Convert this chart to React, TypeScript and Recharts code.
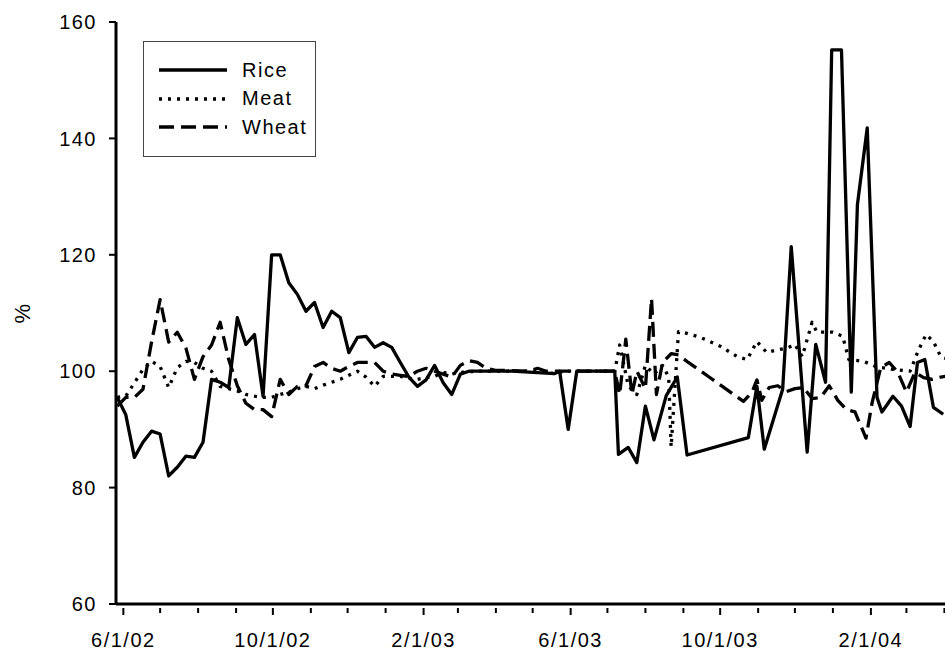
import { LineChart, Line, XAxis, YAxis, Legend, Label } from "recharts";

// weekly price index (%)
const riceDates = [
  "2002-05-27", "2002-06-03", "2002-06-10", "2002-06-17", "2002-06-24", "2002-07-01", "2002-07-08",
  "2002-07-15", "2002-07-22", "2002-07-29", "2002-08-05", "2002-08-12", "2002-08-19", "2002-08-26",
  "2002-09-02", "2002-09-09", "2002-09-16", "2002-09-23", "2002-09-30", "2002-10-07", "2002-10-14",
  "2002-10-21", "2002-10-28", "2002-11-04", "2002-11-11", "2002-11-18", "2002-11-25", "2002-12-02",
  "2002-12-09", "2002-12-16", "2002-12-23", "2002-12-30", "2003-01-06", "2003-01-13", "2003-01-20",
  "2003-01-27", "2003-02-03", "2003-02-10", "2003-02-17", "2003-02-24", "2003-03-03", "2003-03-10",
  "2003-04-14", "2003-05-19", "2003-05-23", "2003-05-30", "2003-06-06", "2003-07-07", "2003-07-10",
  "2003-07-18", "2003-07-25", "2003-08-01", "2003-08-08", "2003-08-18", "2003-08-27", "2003-09-04",
  "2003-10-24", "2003-10-31", "2003-11-06", "2003-11-21", "2003-11-28", "2003-12-11", "2003-12-18",
  "2003-12-26", "2003-12-31", "2004-01-08", "2004-01-16", "2004-01-21", "2004-01-29", "2004-02-06",
  "2004-02-10", "2004-02-19", "2004-02-26", "2004-03-04", "2004-03-10", "2004-03-16", "2004-03-23",
  "2004-03-31",
];
const riceValues = [
  95.5, 92.5, 85.2, 87.8, 89.7, 89.2, 82.0,
  83.5, 85.4, 85.2, 87.8, 98.6, 98.1, 97.2,
  109.2, 104.6, 106.3, 95.7, 120.0, 120.0, 115.2,
  113.2, 110.3, 111.8, 107.5, 110.3, 109.2, 103.2,
  105.8, 106.0, 104.1, 104.9, 104.1, 101.5, 99.0,
  97.4, 98.5, 101.0, 98.0, 96.0, 99.5, 100.0,
  100.0, 99.6, 100.0, 90.0, 100.0, 100.0, 85.7,
  86.9, 84.3, 94.0, 88.2, 95.8, 99.0, 85.6,
  88.6, 97.4, 86.6, 96.9, 121.4, 86.1, 104.6,
  98.1, 155.2, 155.2, 96.4, 128.6, 141.8, 95.5,
  93.0, 95.7, 94.0, 90.5, 101.5, 102.0, 93.8,
  92.6,
];

const meatDates = [
  "2002-05-27", "2002-06-03", "2002-06-10", "2002-06-17", "2002-06-24", "2002-07-01", "2002-07-08",
  "2002-07-15", "2002-07-22", "2002-07-29", "2002-08-05", "2002-08-12", "2002-08-19", "2002-08-26",
  "2002-09-02", "2002-09-09", "2002-09-16", "2002-09-23", "2002-09-30", "2002-10-07", "2002-10-14",
  "2002-10-21", "2002-10-28", "2002-11-04", "2002-11-11", "2002-11-18", "2002-11-25", "2002-12-02",
  "2002-12-09", "2002-12-16", "2002-12-23", "2002-12-30", "2003-01-06", "2003-01-13", "2003-01-20",
  "2003-01-27", "2003-02-03", "2003-02-10", "2003-02-17", "2003-02-24", "2003-03-03", "2003-03-17",
  "2003-05-12", "2003-05-19", "2003-05-26", "2003-07-07", "2003-07-11", "2003-07-18", "2003-07-25",
  "2003-08-01", "2003-08-08", "2003-08-15", "2003-08-20", "2003-08-22", "2003-08-28", "2003-09-04",
  "2003-09-15", "2003-10-01", "2003-10-15", "2003-10-23", "2003-10-31", "2003-11-08", "2003-11-17",
  "2003-11-25", "2003-12-01", "2003-12-07", "2003-12-15", "2003-12-19", "2004-01-01", "2004-01-09",
  "2004-01-14", "2004-01-26", "2004-02-05", "2004-02-19", "2004-03-04", "2004-03-11", "2004-03-17",
  "2004-03-23", "2004-03-29", "2004-04-05",
];
const meatValues = [
  95.5, 95.7, 98.0, 100.3, 101.7, 100.8, 97.2,
  100.6, 101.7, 101.5, 100.5, 100.0, 97.4, 97.0,
  96.6, 96.0, 95.7, 95.5, 95.5, 96.0, 96.4,
  97.0, 97.4, 97.0, 97.6, 98.1, 98.6, 99.3,
  100.0, 99.0, 97.4, 99.1, 99.1, 99.1, 98.8,
  98.6, 98.9, 99.1, 99.8, 99.5, 99.8, 100.0,
  100.0, 99.5, 100.0, 100.0, 104.5, 97.5, 96.0,
  101.0, 99.5, 101.0, 99.0, 87.0, 106.8, 106.5,
  105.8, 104.3, 102.5, 102.0, 105.1, 103.2, 103.7,
  104.0, 104.6, 102.5, 108.4, 106.7, 106.7, 106.0,
  102.0, 101.7, 100.8, 100.3, 100.0, 103.7, 106.3,
  105.1, 102.5, 102.0,
];

const wheatDates = [
  "2002-05-27", "2002-06-03", "2002-06-10", "2002-06-17", "2002-06-24", "2002-07-01", "2002-07-08",
  "2002-07-15", "2002-07-22", "2002-07-29", "2002-08-05", "2002-08-12", "2002-08-19", "2002-08-26",
  "2002-09-02", "2002-09-09", "2002-09-16", "2002-09-23", "2002-09-30", "2002-10-07", "2002-10-14",
  "2002-10-21", "2002-10-28", "2002-11-04", "2002-11-11", "2002-11-18", "2002-11-25", "2002-12-02",
  "2002-12-09", "2002-12-16", "2002-12-23", "2002-12-30", "2003-01-06", "2003-01-13", "2003-01-20",
  "2003-01-27", "2003-02-03", "2003-02-10", "2003-02-17", "2003-02-24", "2003-03-03", "2003-03-10",
  "2003-03-17", "2003-03-24", "2003-03-31", "2003-04-28", "2003-05-05", "2003-05-12", "2003-07-07",
  "2003-07-11", "2003-07-16", "2003-07-21", "2003-07-25", "2003-08-01", "2003-08-06", "2003-08-10",
  "2003-08-15", "2003-08-22", "2003-08-28", "2003-09-05", "2003-09-22", "2003-10-20", "2003-10-27",
  "2003-10-31", "2003-11-04", "2003-11-10", "2003-11-17", "2003-11-24", "2003-12-01", "2003-12-08",
  "2003-12-15", "2003-12-22", "2003-12-29", "2004-01-05", "2004-01-12", "2004-01-19", "2004-01-28",
  "2004-02-02", "2004-02-09", "2004-02-16", "2004-02-23", "2004-03-01", "2004-03-08", "2004-03-15",
  "2004-03-22", "2004-03-29", "2004-04-05",
];
const wheatValues = [
  94.0, 95.5, 95.5, 96.9, 105.0, 112.3, 105.0,
  106.7, 104.0, 98.6, 102.5, 104.5, 108.4, 102.0,
  97.5, 94.5, 93.4, 93.4, 92.2, 98.6, 96.0,
  97.4, 97.5, 100.8, 101.5, 100.5, 100.0, 100.8,
  101.5, 101.5, 101.5, 100.0, 99.5, 99.3, 99.1,
  100.0, 100.5, 100.0, 99.5, 99.0, 101.0, 101.8,
  101.5, 100.5, 100.2, 100.0, 100.5, 100.0, 100.0,
  96.0, 105.5, 96.0, 100.0, 97.0, 112.5, 96.0,
  101.5, 103.0, 102.8, 101.5, 99.0, 94.8, 96.4,
  98.5, 95.0, 97.2, 97.5, 96.5, 97.0, 97.2,
  95.3, 95.5, 97.5, 95.0, 93.4, 93.0, 88.5,
  94.6, 100.6, 101.5, 99.8, 96.4, 99.8, 98.9,
  98.6, 99.0, 99.2,
];

const monthTicks = [
  "2002-06-01", "2002-07-01", "2002-08-01", "2002-09-01", "2002-10-01", "2002-11-01", "2002-12-01",
  "2003-01-01", "2003-02-01", "2003-03-01", "2003-04-01", "2003-05-01", "2003-06-01", "2003-07-01",
  "2003-08-01", "2003-09-01", "2003-10-01", "2003-11-01", "2003-12-01", "2004-01-01", "2004-02-01",
  "2004-03-01", "2004-04-01",
];
const labeledTicks = ["2002-06-01", "2002-10-01", "2003-02-01", "2003-06-01", "2003-10-01", "2004-02-01"];
const yTicks = [60, 80, 100, 120, 140, 160];

const series = [
  { name: "Rice", dates: riceDates, values: riceValues, dash: undefined as string | undefined },
  { name: "Meat", dates: meatDates, values: meatValues, dash: "3 6" },
  { name: "Wheat", dates: wheatDates, values: wheatValues, dash: "15 7" },
];

const DAY = 86400000;
const toDay = (s: string) => {
  const [y, m, d] = s.split("-").map(Number);
  return Date.UTC(y, m - 1, d) / DAY;
};
const labeledDays = labeledTicks.map(toDay);

const FONT = '"Liberation Sans", Arial, sans-serif';

function DateTick({ x, y, payload }: any) {
  const d = new Date(payload.value * DAY);
  const major = labeledDays.includes(payload.value);
  const label = `${d.getUTCMonth() + 1}/${d.getUTCDate()}/${String(d.getUTCFullYear()).slice(2)}`;
  return (
    <g>
      <line x1={x} x2={x} y1={y + 2} y2={y + (major ? 9 : 7)} stroke="#000" strokeWidth={2} />
      {major && (
        <text x={x} y={y + 41} textAnchor="middle" fontSize={20} fill="#000">
          {label}
        </text>
      )}
    </g>
  );
}

function LegendBox() {
  return (
    <div
      style={{
        width: 173,
        height: 116,
        border: "1px solid #444",
        boxSizing: "border-box",
        background: "#fff",
        paddingTop: 14,
        fontSize: 20,
      }}
    >
      {series.map((s) => (
        <div key={s.name} style={{ height: 28.5, display: "flex", alignItems: "center" }}>
          <svg width={84} height={8} style={{ display: "block" }}>
            <line x1={15} x2={83} y1={4} y2={4} stroke="#000" strokeWidth={3.5} strokeDasharray={s.dash} />
          </svg>
          <span style={{ marginLeft: 14, color: "#000" }}>{s.name}</span>
        </div>
      ))}
    </div>
  );
}

export default function App() {
  return (
    <div
      style={{
        position: "absolute",
        left: 0,
        top: 0,
        width: 945,
        height: 650,
        overflow: "hidden",
        background: "#fff",
        fontFamily: FONT,
        letterSpacing: "1.5px",
      }}
    >
      <LineChart width={953} height={650} margin={{ top: 22, right: 0, bottom: 0, left: 0 }}>
        <XAxis
          type="number"
          dataKey="t"
          domain={[toDay("2002-05-26"), toDay("2004-04-08")]}
          ticks={monthTicks.map(toDay)}
          interval={0}
          height={46}
          tickSize={0}
          tickLine={false}
          axisLine={{ stroke: "#000", strokeWidth: 3 }}
          tick={<DateTick />}
        />
        <YAxis
          type="number"
          domain={[60, 160]}
          ticks={yTicks}
          interval={0}
          width={116}
          tickSize={7}
          tickMargin={12}
          axisLine={{ stroke: "#000", strokeWidth: 3 }}
          tickLine={{ stroke: "#000", strokeWidth: 2 }}
          tick={{ fill: "#000", fontSize: 20 }}
        >
          <Label
            content={() => (
              <text
                x={22}
                y={313}
                transform="rotate(-90 22 313)"
                textAnchor="middle"
                dominantBaseline="central"
                fontSize={22}
                fill="#000"
              >
                %
              </text>
            )}
          />
        </YAxis>
        <Legend
          layout="horizontal"
          verticalAlign="middle"
          align="center"
          wrapperStyle={{ left: 143, top: 41, width: 173, height: 116 }}
          content={() => <LegendBox />}
        />
        {series.map((s) => (
          <Line
            key={s.name}
            name={s.name}
            data={s.dates.map((d, i) => ({ t: toDay(d), v: s.values[i] }))}
            dataKey="v"
            type="linear"
            stroke="#000"
            strokeWidth={3.3}
            strokeDasharray={s.dash}
            strokeLinejoin="round"
            dot={false}
            activeDot={false}
            isAnimationActive={false}
          />
        ))}
      </LineChart>
    </div>
  );
}
